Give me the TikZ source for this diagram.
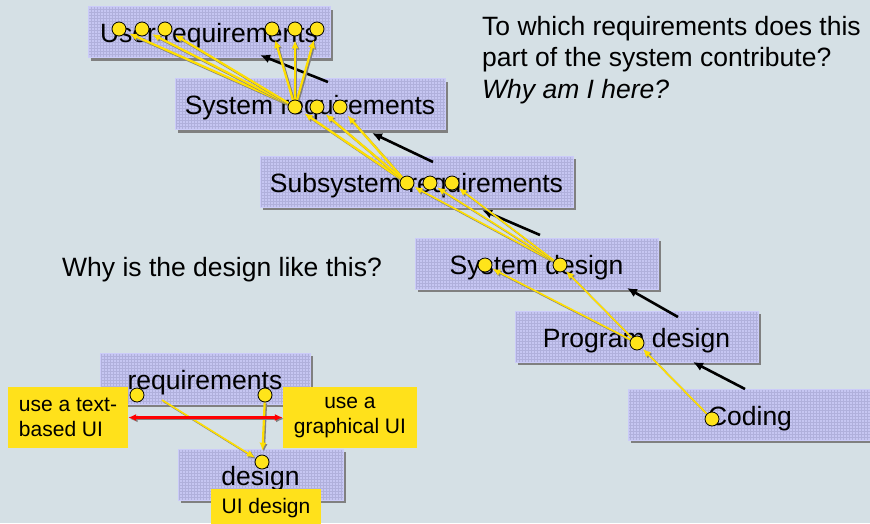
\documentclass[tikz,border=0pt]{standalone}
\usepackage{fontspec}
\setmainfont{Liberation Sans}
\usetikzlibrary{arrows.meta,shadows}

\definecolor{bg}{HTML}{D5E0E5}
\definecolor{boxfill}{HTML}{C6C6F2}
\definecolor{boxgrid}{HTML}{B0B0DC}
\definecolor{boxedge}{HTML}{CBCBF8}
\definecolor{dotyellow}{HTML}{FFE41A}
\definecolor{lineyellow}{HTML}{FFDF00}
\definecolor{noteyellow}{HTML}{FFE11B}
\definecolor{shade}{HTML}{808080}

\pgfdeclarelayer{bgl}
\pgfdeclarelayer{boxes}
\pgfdeclarelayer{links}
\pgfsetlayers{bgl,boxes,links,main}

% a link drawn twice: a grey copy slightly offset, then the link itself
\newcommand\shadedlink[3]{%
  \draw[#1, draw=shade, transform canvas={shift={(1.3pt,-1.3pt)}}] (#2) -- (#3);
  \draw[#1] (#2) -- (#3);}

\begin{document}
\begin{tikzpicture}[x=1pt,y=-1pt,
  phase/.style={rectangle, fill=boxfill, draw=boxedge, line width=0.8pt, inner sep=0pt,
    minimum height=51pt, text height=22pt, text depth=1pt,
    font=\fontsize{26.5}{31}\selectfont,
    drop shadow={shadow xshift=3pt, shadow yshift=-3pt, fill=shade, opacity=1},
    path picture={\draw[boxgrid, line width=0.35pt]
      (path picture bounding box.south west) grid[step=3pt]
      (path picture bounding box.north east);}},
  note/.style={rectangle, fill=noteyellow, inner sep=0pt,
    font=\fontsize{21}{25}\selectfont},
  dot/.style={circle, fill=dotyellow, draw=black, line width=0.8pt,
    minimum size=14pt, inner sep=0pt},
  plain/.style={inner sep=0pt, font=\fontsize{26.5}{31.5}\selectfont},
  trace/.style={draw=lineyellow, line width=2.2pt, shorten >=4pt,
    -{Latex[length=8pt,width=7pt]}},
  thintrace/.style={trace, line width=1.6pt, shorten >=1pt},
  lift/.style={draw=black, line width=2.6pt, -{Latex[length=10pt,width=9pt]}},
  conflict/.style={draw=red, line width=2.4pt,
    {Latex[length=8pt,width=7pt]}-{Latex[length=8pt,width=7pt]}}]

\useasboundingbox (0,0) rectangle (870,523);
\begin{pgfonlayer}{bgl}
  \fill[bg] (0,0) rectangle (870,523);
\end{pgfonlayer}

% the V-model phases
\begin{pgfonlayer}{boxes}
  \node[phase, minimum width=242pt] (ur) at (209,32) {User requirements};
  \node[phase, minimum width=270pt] (sr) at (310,104) {System requirements};
  \node[phase, minimum width=313pt] (ss) at (416.5,181.5) {Subsystem requirements};
  \node[phase, minimum width=243pt] (sd) at (536.5,263.5) {System design};
  \node[phase, minimum width=243pt] (pd) at (636.5,336.5) {Program design};
  \node[phase, minimum width=244pt] (co) at (750,414.5) {Coding};

  % small example
  \node[phase, minimum width=210pt] (rq) at (205,378.5) {requirements};
  \node[phase, minimum width=165pt] (ds) at (260.5,474.5) {design};

  \node[note, minimum width=120pt, minimum height=61pt, align=left]
    (tb) at (68,417.5) {use a text-\\based UI};
  \node[note, minimum width=134pt, minimum height=61pt, align=center]
    (gu) at (350,417.5) {use a\\graphical UI};
  \node[note, minimum width=110pt, minimum height=38pt]
    (uid) at (266,508) {UI design};
\end{pgfonlayer}

% free texts
\node[plain, anchor=north west, align=left] (q1) at (482,16)
  {To which requirements does this\\part of the system contribute?\\\textit{Why am I here?}};
\node[plain, anchor=base west] (q2) at (62,276) {Why is the design like this?};

% trace points
\node[dot] (u1) at (119,29) {};
\node[dot] (u2) at (142,29) {};
\node[dot] (u3) at (165,29) {};
\node[dot] (u4) at (272,29) {};
\node[dot] (u5) at (295,29) {};
\node[dot] (u6) at (317,29) {};
\node[dot] (s1) at (295,107) {};
\node[dot] (s2) at (317,107) {};
\node[dot] (s3) at (340,107) {};
\node[dot] (b1) at (407,183) {};
\node[dot] (b2) at (430,183) {};
\node[dot] (b3) at (452,183) {};
\node[dot] (d1) at (485,265) {};
\node[dot] (d2) at (560,265) {};
\node[dot] (p1) at (637,343) {};
\node[dot] (c1) at (712,419) {};
\node[dot] (r1) at (137,395) {};
\node[dot] (r2) at (265,395) {};
\node[dot] (g1) at (262,462) {};
\coordinate (r0) at (162,400);

% ends of the phase-to-phase arrows
\coordinate (k1a) at (328,82);  \coordinate (k1b) at (260,55);
\coordinate (k2a) at (433,162); \coordinate (k2b) at (372,133);
\coordinate (k3a) at (540,235); \coordinate (k3b) at (482,210);
\coordinate (k4a) at (678,317); \coordinate (k4b) at (627,288);
\coordinate (k5a) at (745,389); \coordinate (k5b) at (693,362);

\begin{pgfonlayer}{links}
  \draw[lift] (k1a) -- (k1b);
  \draw[lift] (k2a) -- (k2b);
  \draw[lift] (k3a) -- (k3b);
  \draw[lift] (k4a) -- (k4b);
  \draw[lift] (k5a) -- (k5b);

  \foreach \t in {u1,u2,u3,u4,u5,u6} {\shadedlink{trace}{s1}{\t}}
  \foreach \t in {s1,s2,s3} {\shadedlink{trace}{b1}{\t}}
  \foreach \t in {b1,b2,b3} {\shadedlink{thintrace}{d2}{\t}}
  \foreach \t in {d1,d2} {\shadedlink{thintrace}{p1}{\t}}
  \shadedlink{thintrace}{c1}{p1}

  \shadedlink{thintrace}{r0}{g1}
  \shadedlink{trace}{r2}{g1}
  \shadedlink{conflict}{tb}{gu}
\end{pgfonlayer}
\end{tikzpicture}
\end{document}
